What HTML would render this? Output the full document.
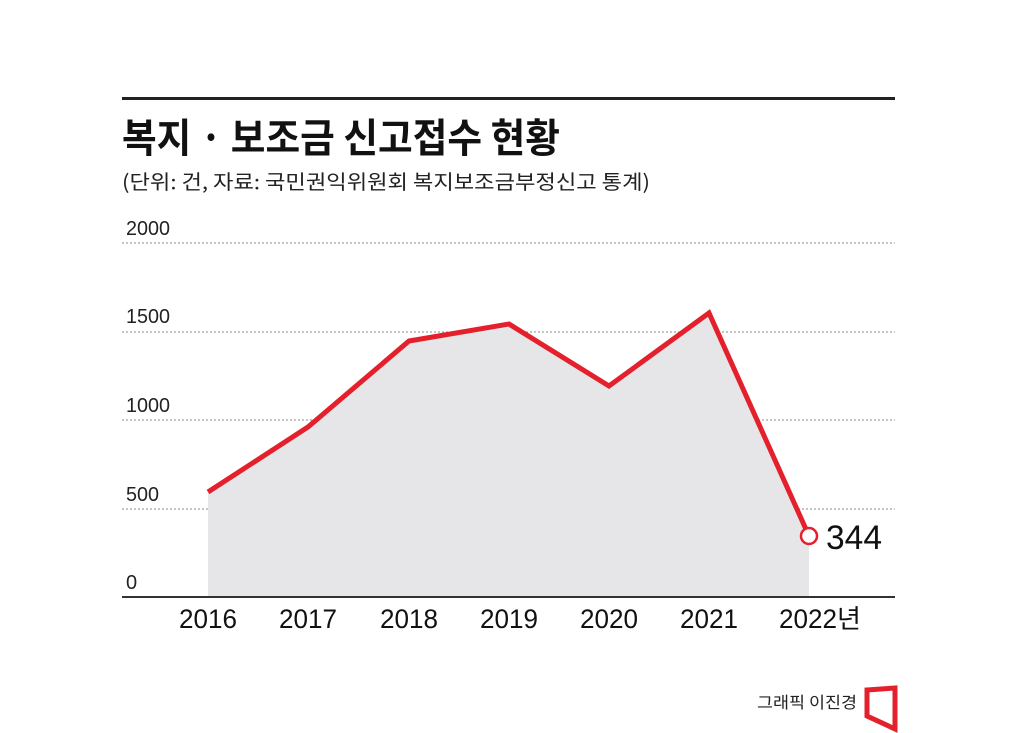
<!DOCTYPE html>
<html><head><meta charset="utf-8"><style>
body{margin:0;background:#fff;}
svg{display:block;font-family:"Liberation Sans","Noto Sans CJK KR",sans-serif;}
</style></head><body>
<svg width="1024" height="733" viewBox="0 0 1024 733">
<rect x="122" y="97" width="773" height="3" fill="#222"/>
<text x="122" y="152" font-size="40" font-weight="bold" fill="#111" textLength="438" lengthAdjust="spacingAndGlyphs" font-family="Noto Sans CJK KR, sans-serif">복지 · 보조금 신고접수 현황</text>
<text x="122" y="189" font-size="20" fill="#222" textLength="528" lengthAdjust="spacingAndGlyphs" font-family="Noto Sans CJK KR, sans-serif">(단위: 건, 자료: 국민권익위원회 복지보조금부정신고 통계)</text>
<g stroke="#888" stroke-width="1" stroke-dasharray="2,2">
<line x1="122" y1="243" x2="895" y2="243"/>
<line x1="122" y1="332" x2="895" y2="332"/>
<line x1="122" y1="420" x2="895" y2="420"/>
<line x1="122" y1="509" x2="895" y2="509"/>
</g>
<g font-size="20" fill="#222">
<text x="126" y="235" textLength="44" lengthAdjust="spacingAndGlyphs">2000</text>
<text x="126" y="323" textLength="44" lengthAdjust="spacingAndGlyphs">1500</text>
<text x="126" y="412" textLength="44" lengthAdjust="spacingAndGlyphs">1000</text>
<text x="126" y="501" textLength="33" lengthAdjust="spacingAndGlyphs">500</text>
<text x="126" y="589">0</text>
</g>
<polygon points="208,597 208,492 308,427 409,341 509,324 609,386 709,313 809,536 809,597" fill="#e6e6e8"/>
<polyline points="208,492 308,427 409,341 509,324 609,386 709,313 809,536" fill="none" stroke="#e3202b" stroke-width="5" stroke-linejoin="miter"/>
<circle cx="809" cy="536" r="8" fill="#fff" stroke="#e3202b" stroke-width="2.5"/>
<text x="826" y="549" font-size="34" fill="#111" textLength="56" lengthAdjust="spacingAndGlyphs">344</text>
<rect x="122" y="596" width="773" height="2" fill="#333"/>
<g font-size="27" fill="#111" text-anchor="middle">
<text x="208" y="628" textLength="58" lengthAdjust="spacingAndGlyphs">2016</text>
<text x="308" y="628" textLength="58" lengthAdjust="spacingAndGlyphs">2017</text>
<text x="409" y="628" textLength="58" lengthAdjust="spacingAndGlyphs">2018</text>
<text x="509" y="628" textLength="58" lengthAdjust="spacingAndGlyphs">2019</text>
<text x="609" y="628" textLength="58" lengthAdjust="spacingAndGlyphs">2020</text>
<text x="709" y="628" textLength="58" lengthAdjust="spacingAndGlyphs">2021</text>
</g>
<text x="779" y="628" font-size="27" fill="#111" textLength="58" lengthAdjust="spacingAndGlyphs">2022</text>
<text x="837" y="628" font-size="26" fill="#111" font-family="Noto Sans CJK KR, sans-serif">년</text>
<text x="757" y="708" font-size="16" fill="#222" textLength="100" lengthAdjust="spacingAndGlyphs" font-family="Noto Sans CJK KR, sans-serif">그래픽 이진경</text>
<polygon points="867,690 895,688 895,729 867,716" fill="none" stroke="#e3202b" stroke-width="5"/>
</svg>
</body></html>
